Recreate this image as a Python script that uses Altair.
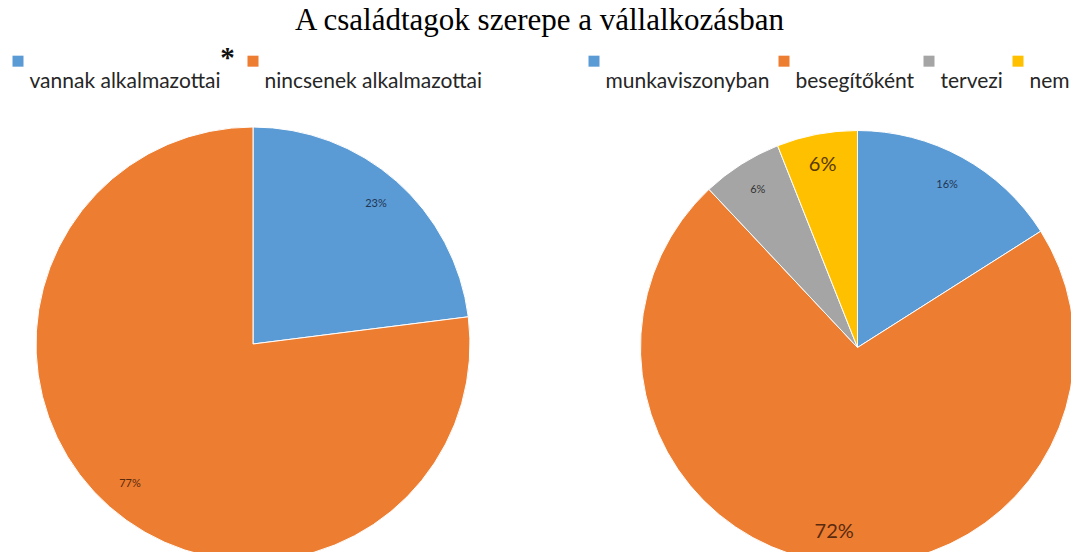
import altair as alt
import pandas as pd

# ---- data ----
left_categories = ["vannak alkalmazottai", "nincsenek alkalmazottai"]
left_values = [23, 77]
right_categories = ["munkaviszonyban", "besegítőként", "tervezi", "nem"]
right_values = [16, 72, 6, 6]
title_text = "A családtagok szerepe a vállalkozásban"

left_colors = ["#5B9BD5", "#ED7D31"]
right_colors = ["#5B9BD5", "#ED7D31", "#A5A5A5", "#FFC000"]
left_text_colors = ["#1F3552", "#5A2A0E"]
right_text_colors = ["#1F3552", "#5A2A0E", "#333333", "#5A3A00"]

left_df = pd.DataFrame({
    "cat": left_categories,
    "value": left_values,
    "idx": list(range(len(left_categories))),
    "label": [f"{v}%" for v in left_values],
})
right_df = pd.DataFrame({
    "cat": right_categories,
    "value": right_values,
    "idx": list(range(len(right_categories))),
    "label": [f"{v}%" for v in right_values],
})

R = 217
LX, LY = 245, 336
RX, RY = 849.5, 339.5

symbol_path = "M-1,-4.74H1V-2.74H-1Z"


def legend(x, y, pad):
    return alt.Legend(
        orient="none", legendX=x, legendY=y, direction="horizontal", title=None,
        symbolType=symbol_path, symbolSize=121, symbolStrokeWidth=0,
        labelFont="Lato", labelFontSize=21, labelColor="#262626",
        labelOffset=1, columnPadding=pad, labelLimit=400,
    )


def pie(df, cats, colors, tcolors, cx, cy, leg, big):
    arc = alt.Chart(df).mark_arc(radius=R, stroke="white", strokeWidth=1).encode(
        theta=alt.Theta("value:Q", stack=True),
        order=alt.Order("idx:Q"),
        color=alt.Color("cat:N", scale=alt.Scale(domain=cats, range=colors), legend=leg),
        x=alt.value(cx), y=alt.value(cy),
    )
    cond = " || ".join([f"datum.cat == '{c}'" for c in big]) if big else "false"
    txt = alt.Chart(df).mark_text(radius=186, font="Lato").encode(
        theta=alt.Theta("value:Q", stack=True),
        order=alt.Order("idx:Q"),
        text="label:N",
        size=alt.condition(cond, alt.value(20), alt.value(11)),
        color=alt.Color("cat:N", scale=alt.Scale(domain=cats, range=tcolors), legend=None),
        x=alt.value(cx), y=alt.value(cy),
    )
    return alt.layer(arc, txt).resolve_scale(color="independent")


left = pie(left_df, left_categories, left_colors, left_text_colors, LX, LY,
           legend(-0.5, 63, 22), [])
right = pie(right_df, right_categories, right_colors, right_text_colors, RX, RY,
            legend(575.5, 63, 4), ["besegítőként", "nem"])

star = alt.Chart(pd.DataFrame({"a": [0]})).mark_text(
    text="*", font="Liberation Serif", fontSize=29, fontWeight="bold", color="#111111",
    baseline="middle", align="center"
).encode(x=alt.value(219.5), y=alt.value(50))

chart = alt.layer(left, right, star).resolve_scale(
    color="independent", theta="independent"
).properties(
    width=1063, height=544,
    autosize=alt.AutoSizeParams(type="none"),
    padding=0,
    title=alt.Title(title_text, anchor="middle", font="Liberation Serif", fontSize=31,
                    fontWeight="normal", color="#000000", orient="top", offset=-29),
).configure_view(stroke=None)

chart.save("out.html", embed_options={"renderer": "svg", "actions": False})
